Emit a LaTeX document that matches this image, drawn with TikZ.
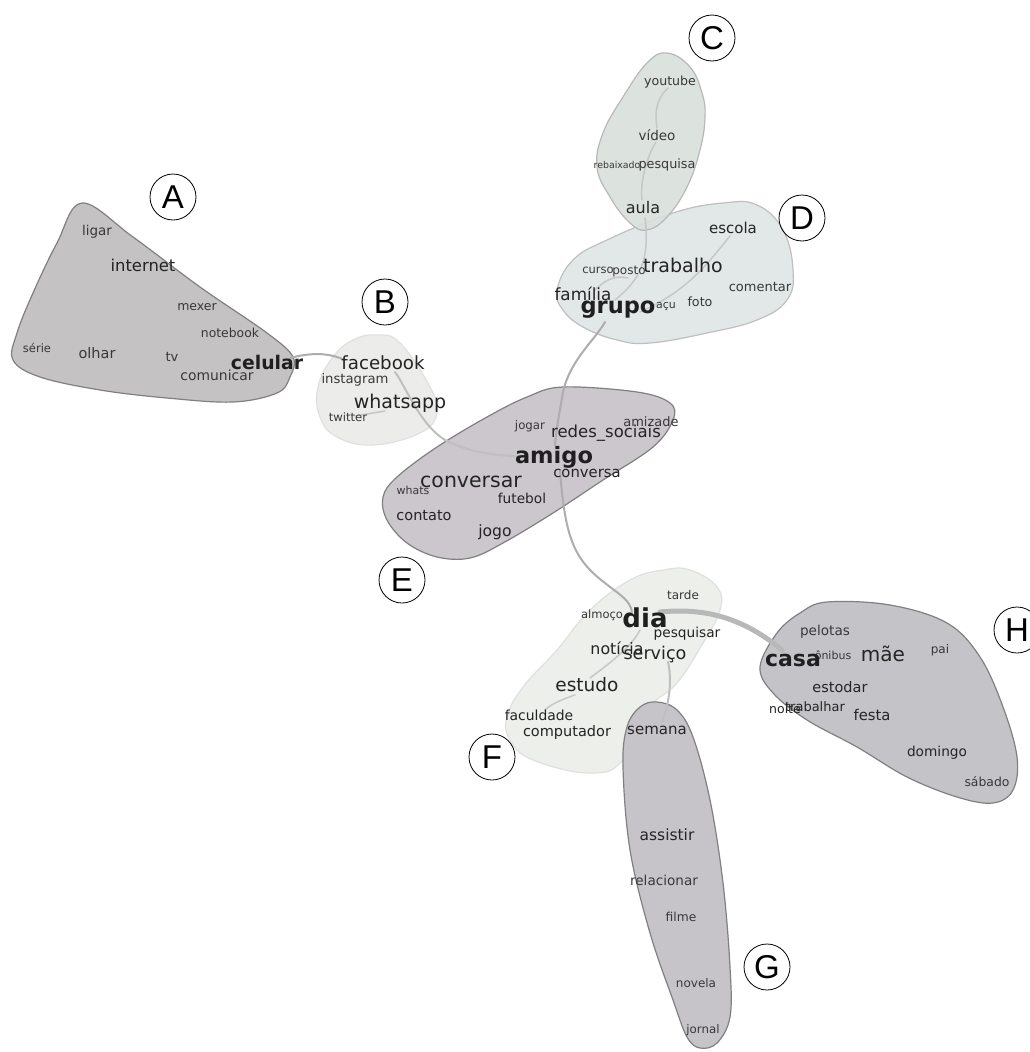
\documentclass[tikz,border=0pt]{standalone}
\usepackage{fontspec}
\setmainfont{DejaVu Sans}
\newfontfamily\labfont{Liberation Sans}
\begin{document}
\begin{tikzpicture}[x=1pt,y=-1pt,
  blob/.style={line width=1.2pt},
  wd/.style={inner sep=0pt,text=black!88,font=\bfseries\fontsize{#1}{#1}\selectfont},
  md/.style={inner sep=0pt,text=black!86,font=\fontsize{#1}{#1}\selectfont},
  sw/.style={inner sep=0pt,text=black!78,font=\fontsize{#1}{#1}\selectfont},
  edge/.style={draw=black!32,line width=2pt,line cap=round},
  fedge/.style={draw=black!22,line width=1.5pt,line cap=round},
  lab/.style={draw=black,line width=0.8pt,circle,minimum size=46pt,inner sep=0pt,font=\labfont\fontsize{33}{33}\selectfont}]
\useasboundingbox[fill=white] (0,0) rectangle (1030,1052);
\definecolor{cA}{HTML}{C4C2C2}
\definecolor{cB}{HTML}{ECECEA}
\definecolor{cC}{HTML}{D9E0DC}
\definecolor{cD}{HTML}{E2E8E8}
\definecolor{cE}{HTML}{CCC6CD}
\definecolor{cF}{HTML}{ECEFEA}
\definecolor{cG}{HTML}{C6C4C9}
\definecolor{cH}{HTML}{C4C4C8}
% blobs
\draw[blob,fill=cA,draw=black!50] plot[smooth cycle,tension=0.6] coordinates {(82,203) (133,237) (200,287) (267,333) (293,357) (290,377) (277,393) (233,402) (167,398) (100,390) (40,377) (13,360) (17,333) (33,293) (57,243)};
\draw[blob,fill=cB,draw=black!12] plot[smooth cycle,tension=0.7] coordinates {(377,335) (400,343) (430,387) (437,413) (420,433) (373,445) (337,437) (320,417) (318,387) (333,357) (353,340)};
\draw[blob,fill=cD,draw=black!25] plot[smooth cycle,tension=0.7] coordinates {(557,290) (573,260) (607,240) (673,213) (723,203) (757,205) (783,230) (793,270) (787,300) (757,320) (707,333) (650,343) (617,340) (583,327) (563,310)};
\draw[blob,fill=cC,fill opacity=0.9,draw=black!28] plot[smooth cycle,tension=0.7] coordinates {(667,53) (690,67) (702,93) (705,117) (700,150) (687,187) (667,217) (647,230) (630,223) (610,197) (597,167) (603,133) (623,97) (647,63)};
\draw[blob,fill=cF,draw=black!12] plot[smooth cycle,tension=0.7] coordinates {(690,570) (717,587) (720,610) (703,643) (677,683) (647,710) (623,760) (590,773) (533,760) (510,740) (507,717) (523,687) (557,650) (590,610) (630,580) (663,570)};
\draw[blob,fill=cG,draw=black!50] plot[smooth cycle,tension=0.6] coordinates {(657,702) (677,710) (693,737) (710,800) (723,883) (730,967) (730,1017) (717,1043) (700,1048) (687,1037) (673,1000) (650,933) (630,850) (623,767) (627,727) (640,707)};
\draw[blob,fill=cE,draw=black!50] plot[smooth cycle,tension=0.6] coordinates {(563,387) (637,392) (670,403) (673,420) (653,447) (603,480) (553,513) (503,543) (470,558) (437,557) (407,543) (387,520) (383,497) (397,477) (437,447) (487,417) (527,397)};
\draw[blob,fill=cH,draw=black!50] plot[smooth cycle,tension=0.6] coordinates {(827,602) (890,605) (947,623) (980,657) (1003,707) (1017,757) (1013,790) (993,803) (957,797) (907,777) (857,747) (807,720) (773,693) (760,667) (777,633) (800,613)};
% edges
\draw[edge] (290,358) .. controls (320,350) and (335,356) .. (345,360);
\draw[edge,draw=black!25] (395,372) .. controls (405,385) and (420,425) .. (445,440) .. controls (475,455) and (500,455) .. (525,457);
\draw[fedge] (355,416) -- (385,411);
\draw[edge] (605,322) .. controls (595,340) and (570,360) .. (563,392) .. controls (560,410) and (556,430) .. (555,445);
\draw[fedge] (615,300) .. controls (640,280) and (650,260) .. (645,218);
\draw[fedge] (640,312) .. controls (690,290) and (710,260) .. (730,236);
\draw[fedge] (595,290) .. controls (605,280) and (615,275) .. (628,278);
\draw[fedge] (668,88) .. controls (655,100) and (655,115) .. (657,128);
\draw[fedge] (656,142) .. controls (645,160) and (640,185) .. (642,200);
\draw[edge] (560,470) .. controls (565,540) and (575,560) .. (605,583) .. controls (620,595) and (630,600) .. (632,612);
\draw[draw=black!28,line width=5pt,line cap=round] (660,612) .. controls (700,608) and (740,615) .. (782,650);
\draw[fedge] (640,630) .. controls (630,650) and (600,670) .. (590,678);
\draw[fedge] (575,695) .. controls (560,700) and (550,705) .. (545,710);
\draw[edge,draw=black!25] (668,662) .. controls (672,680) and (670,700) .. (662,722);
% words A
\node[sw=13.5] (ligar) at (97,232) {ligar};
\node[md=16.4] (internet) at (143,265) {internet};
\node[sw=12.5] (mexer) at (197,307) {mexer};
\node[sw=12.4] (notebook) at (230,333) {notebook};
\node[sw=11.5] (serie) at (37,348) {série};
\node[sw=14.5] (olhar) at (97,353) {olhar};
\node[sw=13] (tv) at (172,357) {tv};
\node[sw=13.9] (comunicar) at (217,375) {comunicar};
\node[wd=18.8] (celular) at (267,362) {celular};
% words B
\node[md=18.2] (facebook) at (383,363) {facebook};
\node[sw=13.2] (instagram) at (355,380) {instagram};
\node[md=19] (whatsapp) at (400,403) {whatsapp};
\node[sw=11.6] (twitter) at (348,417) {twitter};
% words C
\node[sw=12.6] (youtube) at (670,82) {youtube};
\node[sw=13.5] (video) at (657,135) {vídeo};
\node[sw=9.4] (rebaixado) at (617,165) {rebaixado};
\node[sw=12.8] (pesquisa) at (667,165) {pesquisa};
\node[md=16] (aula) at (643,208) {aula};
% words D
\node[md=15] (escola) at (733,228) {escola};
\node[sw=11.5] (curso) at (598,270) {curso};
\node[sw=12] (posto) at (629,272) {posto};
\node[md=19] (trabalho) at (683,265) {trabalho};
\node[sw=12.7] (foto) at (700,302) {foto};
\node[sw=13] (comentar) at (760,287) {comentar};
\node[md=16.8] (familia) at (583,294) {família};
\node[sw=11] (acu) at (666,306) {açu};
\node[wd=22.5] (grupo) at (618,310) {grupo};
% words E
\node[sw=11.8] (jogar) at (530,426) {jogar};
\node[sw=13] (amizade) at (651,422) {amizade};
\node[md=16.5] (redes) at (606,433) {redes\_sociais};
\node[wd=22.5] (amigo) at (554,457) {amigo};
\node[md=14.8] (conversa) at (587,473) {conversa};
\node[sw=11] (whats) at (413,490) {whats};
\node[md=20.5] (conversar) at (471,482) {conversar};
\node[md=13.7] (futebol) at (522,498) {futebol};
\node[md=14.5] (contato) at (424,516) {contato};
\node[md=15.6] (jogo) at (495,532) {jogo};
% words F
\node[sw=12] (tarde) at (683,595) {tarde};
\node[sw=11.5] (almoco) at (602,615) {almoço};
\node[md=13.7] (pesquisar) at (687,634) {pesquisar};
\node[wd=26] (dia) at (645,618) {dia};
\node[md=15.8] (noticia) at (617,648) {notícia};
\node[md=17.6] (servico) at (655,655) {serviço};
\node[md=18.5] (estudo) at (587,685) {estudo};
\node[md=13.9] (faculdade) at (539,715) {faculdade};
\node[md=14.5] (computador) at (567,732) {computador};
% words G
\node[md=15] (semana) at (657,730) {semana};
\node[md=15.5] (assistir) at (667,835) {assistir};
\node[sw=13.6] (relacionar) at (664,880) {relacionar};
\node[sw=12.3] (filme) at (681,917) {filme};
\node[sw=12] (novela) at (696,983) {novela};
\node[sw=11.8] (jornal) at (703,1030) {jornal};
% words H
\node[sw=13.6] (pelotas) at (825,632) {pelotas};
\node[sw=11] (onibus) at (833,655) {ônibus};
\node[wd=22] (casa) at (793,660) {casa};
\node[md=20] (mae) at (883,654) {mãe};
\node[sw=12] (pai) at (940,650) {pai};
\node[md=14.5] (estodar) at (840,687) {estodar};
\node[md=13] (trabalhar) at (815,707) {trabalhar};
\node[md=12.5] (noite) at (785,709) {noite};
\node[md=14.8] (festa) at (872,715) {festa};
\node[md=13.7] (domingo) at (937,753) {domingo};
\node[sw=12.4] (sabado) at (987,782) {sábado};
% labels
\node[lab] (LA) at (173,197) {A};
\node[lab] (LB) at (385,302) {B};
\node[lab] (LC) at (712,38) {C};
\node[lab] (LD) at (802,218) {D};
\node[lab] (LE) at (402,580) {E};
\node[lab] (LF) at (492,757) {F};
\node[lab] (LG) at (767,967) {G};
\node[lab] (LH) at (1017,630) {H};
\end{tikzpicture}
\end{document}
